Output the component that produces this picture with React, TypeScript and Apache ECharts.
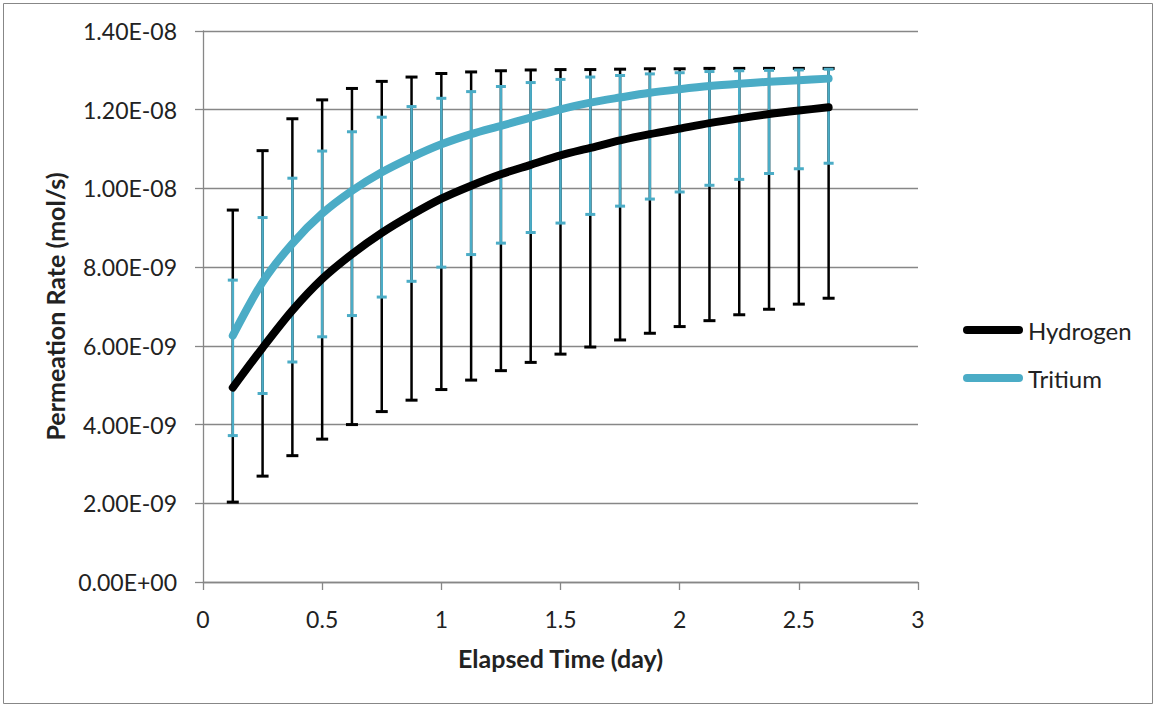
import React, { useEffect, useRef } from "react";
import * as echarts from "echarts";

const elapsedDays = [0.125, 0.25, 0.375, 0.5, 0.625, 0.75, 0.875, 1.0, 1.125, 1.25, 1.375, 1.5, 1.625, 1.75, 1.875, 2.0, 2.125, 2.25, 2.375, 2.5, 2.625];

const hydrogen = [4.94e-9, 5.95e-9, 6.9e-9, 7.7e-9, 8.33e-9, 8.87e-9, 9.33e-9, 9.74e-9, 1.007e-8, 1.036e-8, 1.06e-8, 1.084e-8, 1.103e-8, 1.122e-8, 1.138e-8, 1.152e-8, 1.166e-8, 1.178e-8, 1.189e-8, 1.198e-8, 1.206e-8];
const hydrogenHigh = [9.45e-9, 1.096e-8, 1.177e-8, 1.225e-8, 1.254e-8, 1.272e-8, 1.283e-8, 1.292e-8, 1.296e-8, 1.299e-8, 1.301e-8, 1.302e-8, 1.302e-8, 1.303e-8, 1.304e-8, 1.304e-8, 1.305e-8, 1.305e-8, 1.305e-8, 1.305e-8, 1.305e-8];
const hydrogenLow = [2.03e-9, 2.69e-9, 3.21e-9, 3.63e-9, 4.0e-9, 4.33e-9, 4.62e-9, 4.89e-9, 5.13e-9, 5.37e-9, 5.58e-9, 5.79e-9, 5.97e-9, 6.15e-9, 6.32e-9, 6.49e-9, 6.64e-9, 6.79e-9, 6.93e-9, 7.06e-9, 7.21e-9];

const tritium = [6.26e-9, 7.62e-9, 8.6e-9, 9.36e-9, 9.94e-9, 1.041e-8, 1.079e-8, 1.112e-8, 1.138e-8, 1.159e-8, 1.18e-8, 1.201e-8, 1.218e-8, 1.231e-8, 1.243e-8, 1.252e-8, 1.26e-8, 1.266e-8, 1.271e-8, 1.275e-8, 1.279e-8];
const tritiumHigh = [7.67e-9, 9.26e-9, 1.026e-8, 1.095e-8, 1.144e-8, 1.181e-8, 1.208e-8, 1.229e-8, 1.246e-8, 1.259e-8, 1.269e-8, 1.277e-8, 1.283e-8, 1.287e-8, 1.291e-8, 1.294e-8, 1.297e-8, 1.299e-8, 1.3e-8, 1.301e-8, 1.303e-8];
const tritiumLow = [3.72e-9, 4.79e-9, 5.59e-9, 6.23e-9, 6.77e-9, 7.24e-9, 7.64e-9, 8.0e-9, 8.32e-9, 8.61e-9, 8.88e-9, 9.12e-9, 9.34e-9, 9.55e-9, 9.73e-9, 9.91e-9, 1.008e-8, 1.023e-8, 1.038e-8, 1.05e-8, 1.064e-8];

const seriesNames = ["Hydrogen", "Tritium"];
const seriesColors = ["#000000", "#4BACC6"];

const FONT = "Lato";
const TEXT = "#222222";
const GRID = "#878787";

function sci(v: number): string {
  if (Math.abs(v) < 1e-20) return "0.00E+00";
  const e = Math.floor(Math.log10(Math.abs(v)) + 1e-6);
  const m = v / Math.pow(10, e);
  return m.toFixed(2) + "E" + (e < 0 ? "-" : "+") + String(Math.abs(e)).padStart(2, "0");
}

function errorSeries(name: string, low: number[], high: number[], color: string, capHalf: number, width: number) {
  const data = elapsedDays.map((x, i) => [x, low[i], high[i]]);
  return {
    name,
    type: "custom",
    silent: true,
    renderItem: (_params: any, api: any) => {
      const x = api.value(0);
      const lo = api.coord([x, api.value(1)]);
      const hi = api.coord([x, api.value(2)]);
      const style = { stroke: color, lineWidth: width, fill: "none" };
      return {
        type: "group",
        children: [
          { type: "line", shape: { x1: lo[0], y1: lo[1], x2: hi[0], y2: hi[1] }, style },
          { type: "line", shape: { x1: lo[0] - capHalf, y1: lo[1], x2: lo[0] + capHalf, y2: lo[1] }, style: { ...style, lineWidth: 3 } },
          { type: "line", shape: { x1: hi[0] - capHalf, y1: hi[1], x2: hi[0] + capHalf, y2: hi[1] }, style: { ...style, lineWidth: 3 } },
        ],
      };
    },
    encode: { x: 0, y: [1, 2] },
    data,
    z: 2,
  };
}

const pill = "path://M4,0 L56,0 A4,4 0 0 1 56,8 L4,8 A4,4 0 0 1 4,0 Z";

export default function App() {
  const ref = useRef<HTMLDivElement>(null);
  useEffect(() => {
    if (!ref.current) return;
    const chart = echarts.init(ref.current, undefined, { renderer: "svg" });
    chart.setOption({
      animation: false,
      backgroundColor: "#ffffff",
      textStyle: { fontFamily: FONT },
      graphic: [
        {
          type: "rect",
          shape: { x: 3.5, y: 3.5, width: 1149, height: 700 },
          style: { fill: "none", stroke: "#878787", lineWidth: 1 },
          silent: true,
        },
      ],
      grid: { left: 203, top: 31, right: 238, bottom: 124, containLabel: false },
      legend: {
        data: seriesNames.map((n) => ({ name: n, icon: pill })),
        orient: "vertical",
        left: 958,
        top: 313,
        itemWidth: 60,
        itemHeight: 8,
        itemGap: 24,
        textStyle: { fontFamily: FONT, fontSize: 24, color: TEXT },
        selectedMode: false,
      },
      xAxis: {
        type: "value",
        min: 0,
        max: 3,
        interval: 0.5,
        name: "Elapsed Time (day)",
        nameLocation: "middle",
        nameGap: 63,
        nameTextStyle: { fontFamily: FONT, fontSize: 25, fontWeight: "bold", color: TEXT },
        axisLine: { show: true, lineStyle: { color: GRID, width: 1.3 } },
        axisTick: { show: true, length: 8, lineStyle: { color: GRID, width: 1.3 } },
        axisLabel: { fontFamily: FONT, fontSize: 23, color: TEXT, margin: 25 },
        splitLine: { show: false },
      },
      yAxis: {
        type: "value",
        min: 0,
        max: 1.4e-8,
        interval: 2e-9,
        name: "Permeation Rate (mol/s)",
        nameLocation: "middle",
        nameGap: 133,
        nameTextStyle: { fontFamily: FONT, fontSize: 25, fontWeight: "bold", color: TEXT },
        axisLine: { show: true, lineStyle: { color: GRID, width: 1.3 } },
        axisTick: { show: true, length: 8, lineStyle: { color: GRID, width: 1.3 } },
        axisLabel: { fontFamily: FONT, fontSize: 23, color: TEXT, margin: 26, formatter: (v: number) => sci(v) },
        splitLine: { show: true, lineStyle: { color: GRID, width: 1.3 } },
      },
      series: [
        errorSeries("Hydrogen error", hydrogenLow, hydrogenHigh, seriesColors[0], 6, 2.5),
        errorSeries("Tritium error", tritiumLow, tritiumHigh, seriesColors[1], 5, 2.5),
        {
          name: seriesNames[0],
          type: "line",
          smooth: 0.3,
          showSymbol: false,
          symbol: "none",
          data: elapsedDays.map((x, i) => [x, hydrogen[i]]),
          lineStyle: { color: seriesColors[0], width: 8, cap: "round", join: "round" },
          itemStyle: { color: seriesColors[0] },
          z: 3,
        },
        {
          name: seriesNames[1],
          type: "line",
          smooth: 0.3,
          showSymbol: false,
          symbol: "none",
          data: elapsedDays.map((x, i) => [x, tritium[i]]),
          lineStyle: { color: seriesColors[1], width: 8, cap: "round", join: "round" },
          itemStyle: { color: seriesColors[1] },
          z: 4,
        },
      ],
    });
    return () => chart.dispose();
  }, []);
  return <div ref={ref} style={{ position: "fixed", left: 0, top: 0, width: 1156, height: 706 }} />;
}
